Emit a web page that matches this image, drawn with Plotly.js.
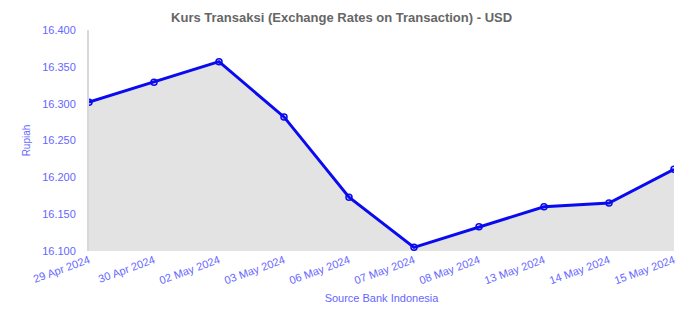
<!DOCTYPE html>
<html><head><meta charset="utf-8">
<script src="https://cdn.plot.ly/plotly-3.0.1.min.js"></script>
<style>html,body{margin:0;padding:0;background:#fff}#chart{width:700px;height:309px}</style>
</head><body><div id="chart"></div>
<script>
const dates = ["29 Apr 2024","30 Apr 2024","02 May 2024","03 May 2024","06 May 2024","07 May 2024","08 May 2024","13 May 2024","14 May 2024","15 May 2024"];
const rates = [16302, 16329, 16357, 16282, 16173, 16105, 16133, 16160, 16165, 16211];
const yTicks = [16100, 16150, 16200, 16250, 16300, 16350, 16400];

const trace = {
  x: dates, y: rates, type: 'scatter', mode: 'lines+markers',
  fill: 'tozeroy', fillcolor: '#e3e3e3',
  line: {color: '#0a0af0', width: 3},
  marker: {symbol: 'circle-open', size: 6, color: '#0a0af0', line: {width: 1.5}},
  hoverinfo: 'x+y'
};
const layout = {
  width: 700, height: 309,
  margin: {l: 89, r: 26, t: 30, b: 58},
  paper_bgcolor: '#fff', plot_bgcolor: '#fff',
  separators: ',.',
  showlegend: false,
  font: {family: 'Liberation Sans, Arial, sans-serif', color: '#6666ff', size: 11},
  title: {text: '<b>Kurs Transaksi (Exchange Rates on Transaction) - USD</b>', x: 0.488, xanchor: 'center', y: 0.945, yanchor: 'middle',
    font: {family: 'Liberation Sans, Arial, sans-serif', size: 13, color: '#666666'}},
  xaxis: {type: 'category', range: [0, dates.length - 1], tickangle: -20, showgrid: false, zeroline: false,
    showline: false, ticks: '', tickfont: {size: 11, color: '#6666ff'},
    title: {text: 'Source Bank Indonesia', font: {size: 11, color: '#6666ff'}, standoff: 8}},
  yaxis: {range: [16100, 16400], tickvals: yTicks, tickformat: ',.0f', showgrid: false, zeroline: false,
    showline: true, linecolor: '#d8d8d8', linewidth: 2, ticks: '', ticklen: 0, ticklabelstandoff: 9,
    tickfont: {size: 11, color: '#6666ff'},
    title: {text: 'Rupiah', font: {size: 10, color: '#6666ff'}, standoff: 10}}
};
Plotly.newPlot('chart', [trace], layout, {displayModeBar: false, staticPlot: true});
</script></body></html>
